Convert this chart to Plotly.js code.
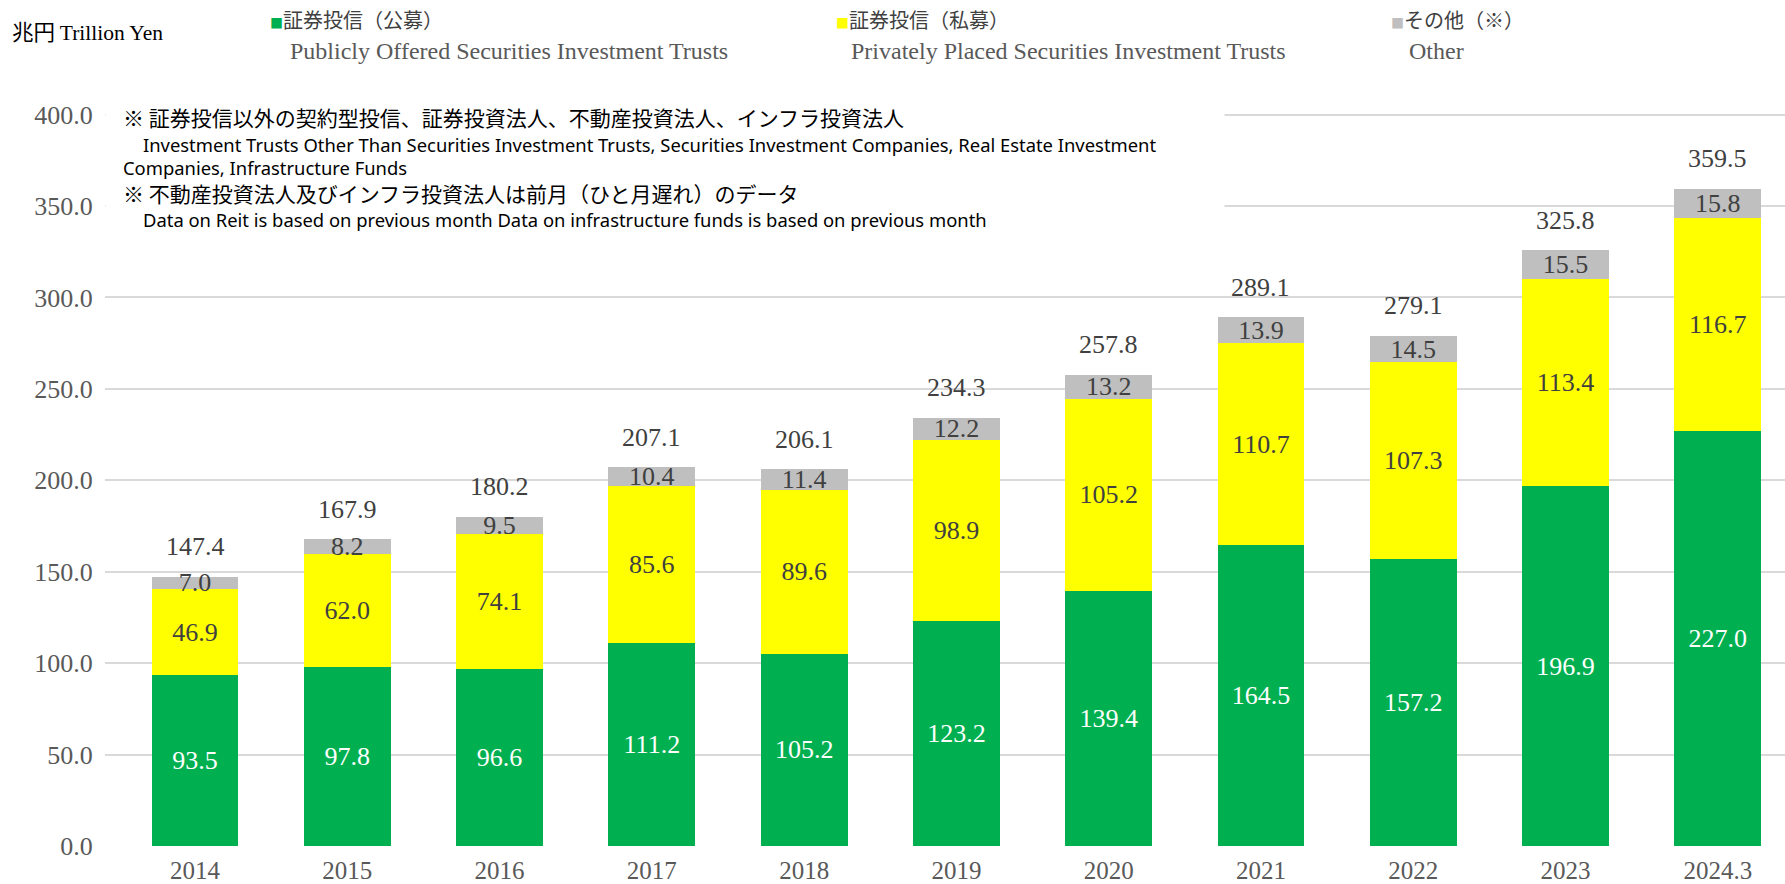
<!DOCTYPE html>
<html>
<head>
<meta charset="utf-8">
<script src="https://cdn.plot.ly/plotly-3.0.1.min.js"></script>
<style>
  body { margin: 0; background: #fff; }
  #myPlot { width: 1785px; height: 884px; }
</style>
</head>
<body>
<div id="myPlot"></div>
<script>
var years = ["2014","2015","2016","2017","2018","2019","2020","2021","2022","2023","2024.3"];
var publicFunds = [93.5, 97.8, 96.6, 111.2, 105.2, 123.2, 139.4, 164.5, 157.2, 196.9, 227.0];
var privateFunds = [46.9, 62.0, 74.1, 85.6, 89.6, 98.9, 105.2, 110.7, 107.3, 113.4, 116.7];
var otherFunds = [7.0, 8.2, 9.5, 10.4, 11.4, 12.2, 13.2, 13.9, 14.5, 15.5, 15.8];
var totals = [147.4, 167.9, 180.2, 207.1, 206.1, 234.3, 257.8, 289.1, 279.1, 325.8, 359.5];

var namesJa = ["証券投信（公募）", "証券投信（私募）", "その他（※）"];
var namesEn = ["Publicly Offered Securities Investment Trusts", "Privately Placed Securities Investment Trusts", "Other"];
var colors = ["#00B050", "#FFFF00", "#BFBFBF"];

var notes = [
  "※ 証券投信以外の契約型投信、証券投資法人、不動産投資法人、インフラ投資法人",
  "Investment Trusts Other Than Securities Investment Trusts, Securities Investment Companies, Real Estate Investment",
  "Companies, Infrastructure Funds",
  "※ 不動産投資法人及びインフラ投資法人は前月（ひと月遅れ）のデータ",
  "Data on Reit is based on previous month Data on infrastructure funds is based on previous month"
];

var SERIF = "Liberation Serif, Times New Roman, serif";
var CJK = "Noto Sans CJK JP, sans-serif";
var SANS = "Noto Sans, sans-serif";

function fmt(arr) { return arr.map(function (v) { return v.toFixed(1); }); }

// plot area in pixels: left 105, right 1785, top 111.3, bottom 845.8
function px2x(x) { return (x - 105) / 1680; }
function px2y(y) { return (845.8 - y) / 734.5; }

var series = [publicFunds, privateFunds, otherFunds];
var textColors = ["#FFFFFF", "#404040", "#404040"];

var data = series.map(function (vals, i) {
  return {
    type: "bar",
    x: years,
    y: vals,
    name: namesJa[i],
    marker: {color: colors[i]},
    text: fmt(vals),
    textposition: "inside",
    insidetextanchor: "middle",
    textangle: 0,
    constraintext: "none",
    textfont: {family: SERIF, size: 26, color: textColors[i]},
    hoverinfo: "skip"
  };
});

var annotations = [];

// unit
annotations.push({
  xref: "paper", yref: "paper", x: px2x(10), y: px2y(31),
  xanchor: "left", yanchor: "middle", showarrow: false,
  text: "兆円 <span style='font-family:Liberation Serif'>Trillion Yen</span>",
  font: {family: CJK, size: 21.5, color: "#000000"}
});

// legend
var legX = [268, 834, 1389];
var legEnX = [288, 849, 1407];
for (var i = 0; i < 3; i++) {
  annotations.push({
    xref: "paper", yref: "paper", x: px2x(legX[i]), y: px2y(20),
    xanchor: "left", yanchor: "middle", showarrow: false,
    text: "<span style='color:" + colors[i] + ";font-size:13px'>■</span>" + namesJa[i],
    font: {family: CJK, size: 20, color: "#404040"}
  });
  annotations.push({
    xref: "paper", yref: "paper", x: px2x(legEnX[i]), y: px2y(51),
    xanchor: "left", yanchor: "middle", showarrow: false,
    text: namesEn[i],
    font: {family: SERIF, size: 24, color: "#595959"}
  });
}

// white box behind the notes
annotations.push({
  xref: "paper", yref: "paper", x: 0, y: px2y(97),
  xanchor: "left", yanchor: "top", showarrow: false,
  text: " ", width: 1118, height: 116, bgcolor: "#FFFFFF", borderpad: 0
});

var noteX = [121, 141, 121, 121, 141];
var noteY = [117, 145, 168, 193, 220];
for (var j = 0; j < notes.length; j++) {
  var ja = notes[j].charAt(0) === "※";
  annotations.push({
    xref: "paper", yref: "paper", x: px2x(noteX[j]), y: px2y(noteY[j]),
    xanchor: "left", yanchor: "middle", showarrow: false,
    text: notes[j],
    font: {family: ja ? CJK : SANS, size: ja ? 21 : 18.4, color: "#000000"}
  });
}

// totals above the bars
years.forEach(function (yr, k) {
  annotations.push({
    x: k, y: totals[k], xref: "x", yref: "y",
    xanchor: "center", yanchor: "middle", yshift: 30, showarrow: false,
    text: totals[k].toFixed(1),
    font: {family: SERIF, size: 26, color: "#404040"}
  });
});

var layout = {
  barmode: "stack",
  bargap: 0.43,
  showlegend: false,
  hovermode: false,
  margin: {l: 105, r: 0, t: 111.3, b: 38.2},
  paper_bgcolor: "#FFFFFF",
  plot_bgcolor: "#FFFFFF",
  xaxis: {
    type: "category",
    range: [-0.591, 10.441],
    showgrid: false,
    zeroline: false,
    showline: false,
    ticks: "outside",
    ticklen: 2,
    tickcolor: "rgba(0,0,0,0)",
    tickfont: {family: SERIF, size: 25, color: "#595959"}
  },
  yaxis: {
    range: [0, 402],
    tickvals: [0, 50, 100, 150, 200, 250, 300, 350, 400],
    tickformat: ".1f",
    gridcolor: "#D9D9D9",
    gridwidth: 2,
    zeroline: false,
    showline: false,
    ticks: "outside",
    ticklen: 6,
    tickcolor: "rgba(0,0,0,0)",
    tickfont: {family: SERIF, size: 26, color: "#595959"}
  },
  annotations: annotations
};

Plotly.newPlot("myPlot", data, layout, {displayModeBar: false, staticPlot: true});
</script>
</body>
</html>
